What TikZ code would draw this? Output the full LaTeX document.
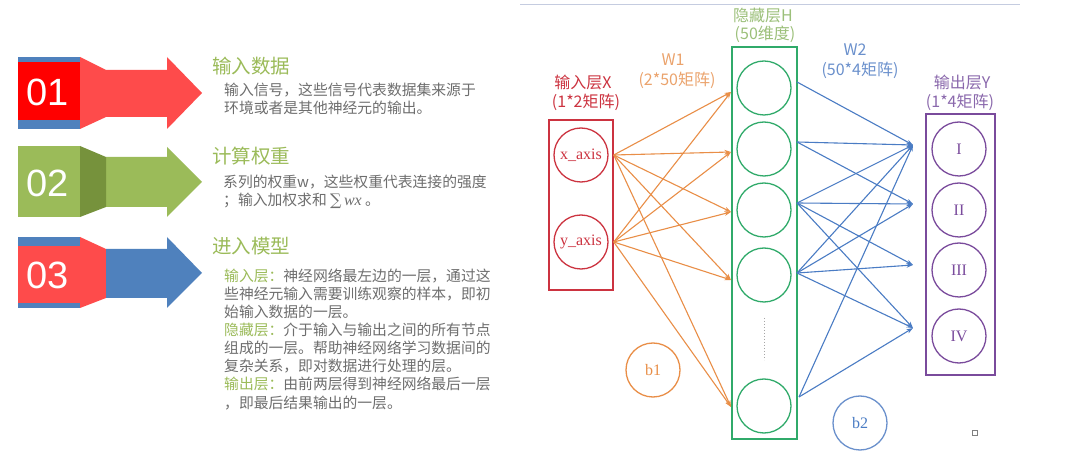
\documentclass[tikz,border=0pt]{standalone}
\usepackage{fontspec}
\setmainfont{Liberation Serif}
\newfontfamily\cjk{Noto Sans CJK SC}
\newfontfamily\numfont{Liberation Sans}
\newfontfamily\symfont{DejaVu Serif}
\usetikzlibrary{arrows.meta}
\definecolor{pred}{HTML}{FF0000}
\definecolor{lred}{HTML}{FE4B4B}
\definecolor{pblue}{HTML}{4F81BD}
\definecolor{pgreen}{HTML}{9BBB59}
\definecolor{dgreen}{HTML}{76923C}
\definecolor{titlegreen}{HTML}{9BBB59}
\definecolor{bodygray}{HTML}{6E6E6E}
\definecolor{inred}{HTML}{CC3340}
\definecolor{worange}{HTML}{E98E47}
\definecolor{lorange}{HTML}{EBA36C}
\definecolor{hgreen}{HTML}{30AA6A}
\definecolor{lgreen}{HTML}{9CC07A}
\definecolor{wblue}{HTML}{4A7CC4}
\definecolor{lblue}{HTML}{6A90CC}
\definecolor{opurple}{HTML}{7A4B9C}
\definecolor{lpurple}{HTML}{8A68AC}
\definecolor{topline}{HTML}{C5CCE0}
\begin{document}
\begin{tikzpicture}[x=1pt,y=-1pt,
  title/.style={font=\cjk\fontsize{19.5}{22}\selectfont, text=titlegreen, anchor=base west, inner sep=0pt},
  body/.style={font=\cjk\fontsize{14.8}{18}\selectfont, text=bodygray, anchor=base west, inner sep=0pt, text height=11pt, text depth=2pt},
  numtxt/.style={font=\numfont\fontsize{38}{40}\selectfont, text=white, inner sep=0pt},
  lbl/.style={font=\cjk\fontsize{16}{18}\selectfont, inner sep=0pt},
  neuron/.style={circle, line width=1.3pt, minimum size=54pt, inner sep=0pt, font=\fontsize{16}{18}\selectfont},
  layerbox/.style={draw, line width=1.5pt, inner sep=0pt},
  wone/.style={draw=worange, line width=1.1pt, -{Stealth[length=6.5pt,width=4.5pt]}},
  wtwo/.style={draw=wblue, line width=1.1pt, -{Stealth[length=6.5pt,width=4.5pt]}}
]
\useasboundingbox (0,0) rectangle (1080,462);
\fill[white] (0,0) rectangle (1080,462);

% ---------- left panel ----------
% arrow 01
\fill[pblue] (18,57) rectangle (80,129);
\fill[pred] (18,62) rectangle (80,120);
\fill[lred] (80,57) -- (106,70) -- (167,70) -- (167,57) -- (202,93) -- (167,129) -- (167,117) -- (106,117) -- (80,129) -- cycle;
\node[numtxt] (n01) at (48,92) {01};
% arrow 02
\fill[pgreen] (18,146) rectangle (80,217);
\fill[pgreen] (106,157) -- (167,157) -- (167,147) -- (202,182) -- (167,217) -- (167,207) -- (106,207) -- cycle;
\fill[dgreen] (80,146) -- (106,157) -- (106,207) -- (80,217) -- cycle;
\node[numtxt] (n02) at (48,183) {02};
% arrow 03
\fill[pblue] (18,237) rectangle (80,308);
\fill[lred] (18,246) rectangle (80,303);
\fill[lred] (80,237) -- (106,249) -- (106,298) -- (80,308) -- cycle;
\fill[pblue] (106,249) -- (167,249) -- (167,237) -- (202,273) -- (167,308) -- (167,298) -- (106,298) -- cycle;
\node[numtxt] (n03) at (48,275) {03};

\node[title] (t1) at (212,74) {输入数据};
\node[body] (p1a) at (224,95.5) {输入信号，这些信号代表数据集来源于};
\node[body] (p1b) at (224,113.8) {环境或者是其他神经元的输出。};

\node[title] (t2) at (212,163.5) {计算权重};
\node[body] (p2a) at (223,187.6) {系列的权重w，这些权重代表连接的强度};
\node[body] (p2b) at (223,205.7) {；输入加权求和 {\symfont\fontsize{16}{18}\selectfont ∑}\,{\rmfamily\itshape\fontsize{16}{18}\selectfont wx} 。};

\node[title] (t3) at (212,254) {进入模型};
\node[body] (p3a) at (224,281.6) {\textcolor{titlegreen}{输入层：}神经网络最左边的一层，通过这};
\node[body] (p3b) at (224,299.7) {些神经元输入需要训练观察的样本，即初};
\node[body] (p3c) at (224,317.7) {始输入数据的一层。};
\node[body] (p3d) at (224,335.8) {\textcolor{titlegreen}{隐藏层：}介于输入与输出之间的所有节点};
\node[body] (p3e) at (224,353.9) {组成的一层。帮助神经网络学习数据间的};
\node[body] (p3f) at (224,371.9) {复杂关系，即对数据进行处理的层。};
\node[body] (p3g) at (224,390.0) {\textcolor{titlegreen}{输出层：}由前两层得到神经网络最后一层};
\node[body] (p3h) at (224,408.1) {，即最后结果输出的一层。};

% ---------- right panel ----------
\draw[topline, line width=1pt] (520,5) -- (1020,5);

% input layer
\node[lbl, text=inred] (xl1) at (583,82.5) {输入层X};
\node[lbl, text=inred] (xl2) at (586,102.5) {(1*2矩阵)};
\node[layerbox, draw=inred, minimum width=64pt, minimum height=170pt] (xbox) at (581,205) {};
\node[neuron, draw=inred, text=inred] (xa) at (581,155) {x\_axis};
\node[neuron, draw=inred, text=inred] (ya) at (581,242) {y\_axis};

% hidden layer
\node[lbl, text=lgreen] (hl1) at (763,15.5) {隐藏层H};
\node[lbl, text=lgreen] (hl2) at (765,34.5) {(50维度)};
\node[layerbox, draw=hgreen, minimum width=65pt, minimum height=392pt] (hbox) at (764.5,243) {};
\node[neuron, draw=hgreen] (h1) at (764,88) {};
\node[neuron, draw=hgreen] (h2) at (764,149) {};
\node[neuron, draw=hgreen] (h3) at (764,210) {};
\node[neuron, draw=hgreen] (h4) at (764,275) {};
\node[neuron, draw=hgreen] (h5) at (764,406) {};
\draw[gray!70, line width=1pt, dotted] (764,318) -- (764,360);

% output layer
\node[lbl, text=lpurple] (ol1) at (962,82.5) {输出层Y};
\node[lbl, text=lpurple] (ol2) at (960,102.5) {(1*4矩阵)};
\node[layerbox, draw=opurple, minimum width=69pt, minimum height=261pt] (obox) at (960.5,244.5) {};
\node[neuron, draw=opurple, text=opurple] (o1) at (959,149) {I};
\node[neuron, draw=opurple, text=opurple] (o2) at (959,210) {II};
\node[neuron, draw=opurple, text=opurple] (o3) at (959,270) {III};
\node[neuron, draw=opurple, text=opurple] (o4) at (959,336) {IV};

% weight labels
\node[lbl, text=lorange] (w1a) at (673,60) {W1};
\node[lbl, text=lorange] (w1b) at (677,80) {(2*50矩阵)};
\node[lbl, text=lblue] (w2a) at (855,50) {W2};
\node[lbl, text=lblue] (w2b) at (860,70.5) {(50*4矩阵)};

% bias
\node[neuron, draw=worange, text=worange] (b1) at (653,370) {b1};
\node[neuron, draw=lblue, text=wblue] (b2) at (860,423) {b2};

% ports
\coordinate (xs) at (xbox.east |- xa);
\coordinate (ys) at (xbox.east |- ya);
\coordinate (hi1) at (731,92);
\coordinate (hi2) at (731,152);
\coordinate (hi3) at (731,212);
\coordinate (hi4) at (731,280);
\coordinate (hi5) at (731,407);
\coordinate (ho1) at (797,82);
\coordinate (ho2) at (797,142);
\coordinate (ho3) at (797,203);
\coordinate (ho4) at (797,273);
\coordinate (ho5) at (799,397);
\coordinate (oi1) at (913,145);
\coordinate (oi2) at (913,204);
\coordinate (oi3) at (913,265);
\coordinate (oi4) at (913,328);

% W1 connections
\foreach \s in {xs,ys}{
  \foreach \t in {1,...,5}{
    \draw[wone] (\s) -- (hi\t);
  }
}
% W2 connections
\foreach \s/\t in {1/1, 2/1, 2/2, 3/1, 3/2, 3/3, 3/4, 4/1, 4/2, 4/3, 4/4, 5/1, 5/4}{
  \draw[wtwo] (ho\s) -- (oi\t);
}

% small square mark
\draw[gray, line width=0.8pt] (972,430) rectangle (977,435);
\end{tikzpicture}
\end{document}
